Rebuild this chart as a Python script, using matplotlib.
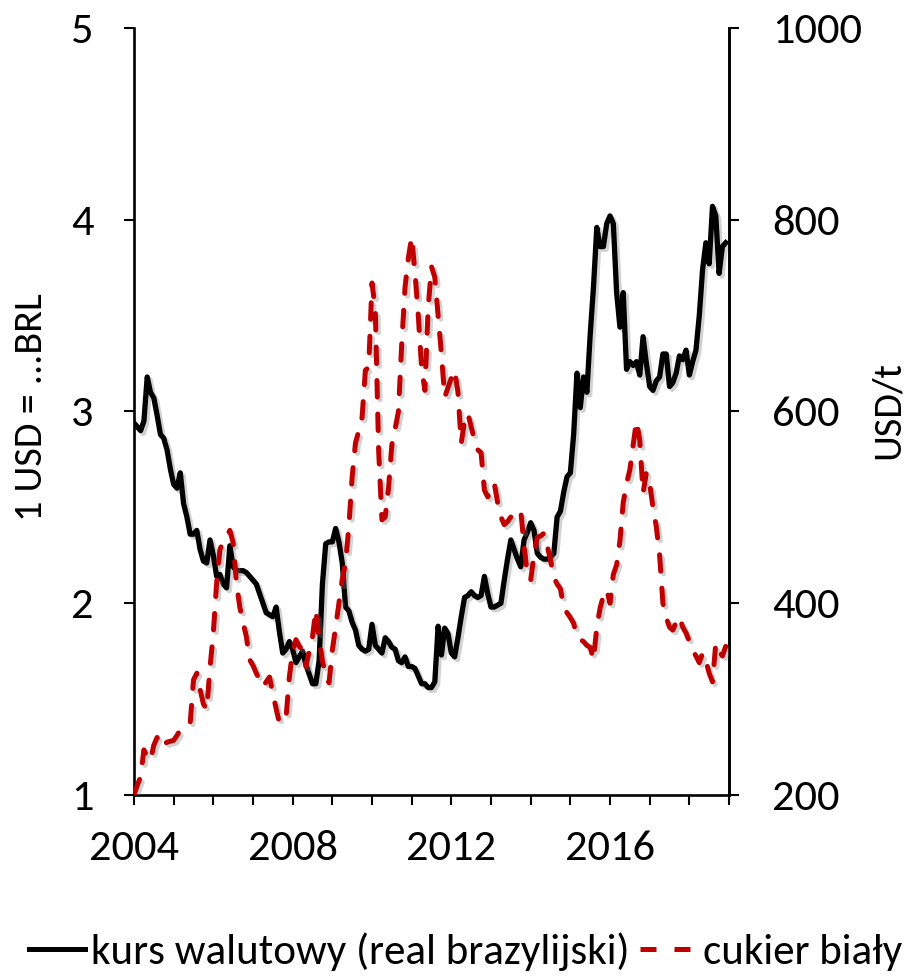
import numpy as np
import matplotlib
matplotlib.use("Agg")
import matplotlib.pyplot as plt
from matplotlib.lines import Line2D
import matplotlib.patheffects as pe
from matplotlib import font_manager as fm

# monthly data, Jan 2004 - Dec 2018
brl = [
    2.94, 2.92, 2.90, 2.95, 3.18, 3.10, 3.07, 2.98, 2.88, 2.86, 2.80, 2.70,  # 2004
    2.62, 2.60, 2.68, 2.52, 2.45, 2.36, 2.36, 2.38, 2.28, 2.22, 2.21, 2.33,  # 2005
    2.25, 2.14, 2.15, 2.10, 2.08, 2.30, 2.19, 2.17, 2.17, 2.17, 2.16, 2.14,  # 2006
    2.12, 2.10, 2.05, 2.00, 1.95, 1.94, 1.93, 1.98, 1.85, 1.74, 1.76, 1.80,  # 2007
    1.76, 1.69, 1.72, 1.75, 1.68, 1.63, 1.58, 1.58, 1.70, 2.10, 2.31, 2.32,  # 2008
    2.32, 2.39, 2.32, 2.21, 1.98, 1.96, 1.90, 1.86, 1.78, 1.76, 1.75, 1.76,  # 2009
    1.89, 1.78, 1.76, 1.74, 1.82, 1.80, 1.77, 1.76, 1.70, 1.69, 1.72, 1.67,  # 2010
    1.67, 1.66, 1.62, 1.58, 1.58, 1.56, 1.56, 1.59, 1.88, 1.73, 1.87, 1.84,  # 2011
    1.74, 1.72, 1.82, 1.93, 2.03, 2.04, 2.06, 2.04, 2.03, 2.04, 2.14, 2.05,  # 2012
    1.98, 1.98, 1.99, 2.00, 2.12, 2.23, 2.33, 2.28, 2.23, 2.19, 2.33, 2.37,  # 2013
    2.42, 2.38, 2.26, 2.24, 2.23, 2.23, 2.24, 2.26, 2.45, 2.48, 2.58, 2.66,  # 2014
    2.68, 2.88, 3.20, 3.02, 3.18, 3.10, 3.40, 3.65, 3.96, 3.86, 3.86, 3.98,  # 2015
    4.02, 3.98, 3.62, 3.44, 3.62, 3.22, 3.26, 3.24, 3.26, 3.19, 3.39, 3.25,  # 2016
    3.13, 3.11, 3.16, 3.18, 3.30, 3.30, 3.13, 3.15, 3.20, 3.29, 3.27, 3.32,  # 2017
    3.19, 3.26, 3.32, 3.50, 3.74, 3.88, 3.77, 4.07, 4.02, 3.72, 3.86, 3.88,  # 2018
]

sugar = [
    200, 210, 219, 247, 240, 236, 252, 260, 250, 253, 255, 256,  # 2004
    257, 262, 268, 270, 272, 275, 320, 327, 310, 295, 289, 333,  # 2005
    369, 421, 456, 464, 470, 476, 463, 421, 396, 380, 365, 341,  # 2006
    335, 327, 320, 313, 318, 323, 306, 290, 275, 278, 281, 323,  # 2007
    350, 362, 355, 351, 334, 350, 365, 393, 362, 340, 325, 317,  # 2008
    351, 375, 400, 425, 442, 480, 532, 567, 580, 594, 643, 646,  # 2009
    734, 706, 560, 487, 490, 520, 565, 582, 600, 671, 730, 760,  # 2010
    782, 745, 700, 646, 622, 709, 751, 740, 700, 660, 615, 625,  # 2011
    635, 643, 620, 567, 590, 598, 584, 570, 560, 557, 518, 511,  # 2012
    515, 525, 505, 490, 482, 485, 490, 492, 495, 497, 460, 430,  # 2013
    424, 450, 469, 470, 473, 460, 445, 427, 420, 415, 396, 390,  # 2014
    385, 379, 365, 362, 360, 356, 354, 341, 375, 395, 408, 414,  # 2015
    400, 430, 440, 465, 505, 525, 539, 565, 590, 570, 515, 536,  # 2016
    525, 500, 480, 450, 400, 385, 375, 372, 380, 386, 375, 369,  # 2017
    360, 351, 345, 338, 348, 340, 327, 318, 358, 350, 345, 355,  # 2018
]

years = np.arange(2004, 2020)
year_labels = [str(y) if (y - 2004) % 4 == 0 and y < 2019 else "" for y in years]
series_names = ["kurs walutowy (real brazylijski)", "cukier biały"]

x = 2004 + np.arange(len(brl)) / 12.0

# Calibri look-alike if present
installed = {f.name for f in fm.fontManager.ttflist}
font = next((f for f in ["Carlito", "Calibri", "Lato"] if f in installed), "DejaVu Sans")
fam = [font, "DejaVu Sans"]
red = "#C00000"

fig = plt.figure(figsize=(9.09, 9.76), dpi=100)
ax = fig.add_axes([0.1474, 0.1855, 0.6546, 0.7858])
ax2 = ax.twinx()

shadow = [pe.SimpleLineShadow(offset=(2, -2), shadow_color="gray", alpha=0.35), pe.Normal()]

ax.plot(x, brl, color="black", lw=3.8, solid_joinstyle="round", path_effects=shadow, zorder=3)
ax2.plot(x, sugar, color=red, lw=3.6, dashes=(3.3, 3.4), dash_capstyle="round",
         path_effects=shadow, zorder=3)

ax.set_xlim(2004, 2019)
ax.set_ylim(1, 5)
ax2.set_ylim(200, 1000)

ax.set_xticks(years)
ax.set_xticklabels(year_labels)
ax.set_yticks([1, 2, 3, 4, 5])
ax2.set_yticks([200, 400, 600, 800, 1000])

for a in (ax, ax2):
    a.spines["top"].set_visible(False)
    for s in ("left", "right", "bottom"):
        a.spines[s].set_linewidth(1.9)
    a.tick_params(width=1.5, length=7, direction="out")
    for lab in a.get_xticklabels() + a.get_yticklabels():
        lab.set_fontfamily(fam)
        lab.set_fontsize(32)
ax.tick_params(axis="x", pad=18)
ax.tick_params(axis="y", pad=22)
ax2.tick_params(axis="y", pad=24)
ax2.spines["left"].set_visible(False)
ax2.spines["bottom"].set_visible(False)

fig.text(42 / 909, 1 - 407 / 976, "1 USD = ...BRL", family=fam, fontsize=29,
         rotation=90, ha="center", va="baseline", rotation_mode="anchor")
fig.text(899 / 909, 1 - 410 / 976, "USD/t", family=fam, fontsize=29,
         rotation=90, ha="center", va="baseline", rotation_mode="anchor")

handles = [
    Line2D([], [], color="black", lw=3.6),
    Line2D([], [], color=red, lw=3.6, dashes=(3.2, 3.6)),
]
fig.legend(handles, series_names, loc="center", bbox_to_anchor=(0.512, 0.0246), ncol=2,
           frameon=False, prop={"family": fam, "size": 31}, handlelength=1.3,
           handletextpad=0.15, columnspacing=0.25)

fig.savefig("out.png", dpi=100)
